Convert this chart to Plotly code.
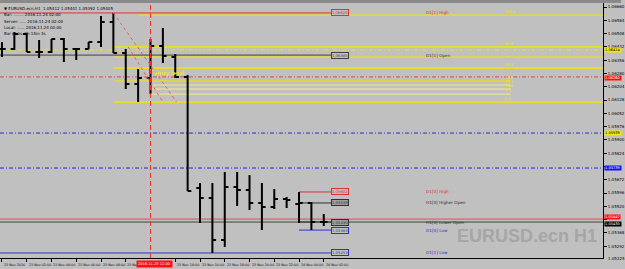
import plotly.graph_objects as go

# ---------------- data ----------------
bar_hours = list(range(27))  # hours since 23 Nov 2016 00:00 (H1 bars)
opens = [1.06420, 1.06420, 1.06506, 1.06403, 1.06403, 1.06477, 1.06420, 1.06420, 1.06460,
         1.06574, 1.06397, 1.06220, 1.06254, 1.06437, 1.06374, 1.06260, 1.05625, 1.05567,
         1.05327, 1.05630, 1.05613, 1.05539, 1.05516, 1.05562, 1.05533, 1.05539, 1.05430]
highs = [1.06460, 1.06517, 1.06511, 1.06471, 1.06477, 1.06483, 1.06425, 1.06460, 1.06609,
         1.06626, 1.06420, 1.06305, 1.06477, 1.06540, 1.06391, 1.06271, 1.05653, 1.05653,
         1.05716, 1.05716, 1.05699, 1.05653, 1.05619, 1.05573, 1.05602, 1.05545, 1.05476]
lows = [1.06374, 1.06414, 1.06403, 1.06368, 1.06397, 1.06345, 1.06357, 1.06418, 1.06431,
        1.06397, 1.06191, 1.06117, 1.06162, 1.06340, 1.06254, 1.05608, 1.05424, 1.05253,
        1.05287, 1.05522, 1.05499, 1.05384, 1.05505, 1.05510, 1.05424, 1.05384, 1.05407]
closes = [1.06420, 1.06506, 1.06403, 1.06403, 1.06477, 1.06420, 1.06420, 1.06460, 1.06574,
          1.06397, 1.06220, 1.06254, 1.06437, 1.06380, 1.06260, 1.05608, 1.05567, 1.05327,
          1.05630, 1.05613, 1.05539, 1.05516, 1.05562, 1.05556, 1.05539, 1.05430, 1.05430]

time_tick_hours = [0, 2, 4, 6, 8, 10, 14, 16, 18, 20, 22, 24, 26]
time_tick_labels = ["23 Nov 2016", "23 Nov 02:00", "23 Nov 04:00", "23 Nov 06:00",
                    "23 Nov 08:00", "23 Nov", "23 Nov 14:00", "23 Nov 16:00",
                    "23 Nov 18:00", "23 Nov 20:00", "23 Nov 22:00", "24 Nov 00:00",
                    "24 Nov 02:00"]
cursor_hour = 12
cursor_label = "2016.11.23 12:00"

price_ticks = [1.06660, 1.06584, 1.06508, 1.06432, 1.06356, 1.06280, 1.06204, 1.06128,
               1.06052, 1.05976, 1.05900, 1.05824, 1.05748, 1.05672, 1.05596, 1.05520,
               1.05444, 1.05368, 1.05292]
# tick labels hidden behind highlighted level boxes are left blank, as in the reference
covered_ticks = [1.05748, 1.05444]
price_tick_labels = ["" if v in covered_ticks else "%.5f" % v for v in price_ticks]
bottom_price_label = "1.05225"

# named daily / hourly levels
d1_prev_high = 1.06626
d1_prev_open = 1.06385
d1_prev_low = 1.05253
d1_cur_high = 1.05602
h1_higher_open = 1.05539
h1_lower_open = 1.05430
d1_cur_low = 1.05384
red_full_level = 1.05447
yellow_dash_level = 1.06414
red_dash_level = 1.06260
blue_dash_levels = [1.05939, 1.05739]

fib_levels = [1.06614, 1.06431, 1.06311, 1.06237, 1.06214, 1.06191, 1.06162, 1.06117]
fib_labels = ["100.0", "61.8", "38.2", "23.6", "19.1", "14.6", "9.0", "0.0"]
extra_yellow_level = 1.06374

header_lines = ["\u25bc EURUSD.ecn,H1  1.05412 1.05441 1.05392 1.05405",
                "Bar: ........ 2016.11.24 02:00",
                "Server: ..... 2016.11.24 02:00",
                "Local: ...... 2016.11.24 00:00",
                "Bar ends: 0h 14m 3s"]

# ---------------- style ----------------
BG = "#C0C0C0"
YEL = "#F2E600"
FONT = "DejaVu Sans"
X_RANGE = [-0.16, 48.56]
Y_RANGE = [1.052243, 1.066829]
X_END = X_RANGE[1]
LBL_BOX_X = 26.6
LBL_TXT_X = 34.1
FIB_START = 9.0
FIB_TXT_X = 40.5
DASHDOT = "4px,2px,1px,2px"

fig = go.Figure()
fig.add_trace(go.Ohlc(x=bar_hours, open=opens, high=highs, low=lows, close=closes,
                      increasing=dict(line=dict(color="black", width=2)),
                      decreasing=dict(line=dict(color="black", width=2)),
                      tickwidth=0.3, hoverinfo="skip", showlegend=False))

shapes = []
ann = []

def hline(y, x0, x1, color, dash="solid", width=1):
    shapes.append(dict(type="line", xref="x", yref="y", x0=x0, x1=x1, y0=y, y1=y,
                       line=dict(color=color, width=width, dash=dash), layer="below"))

# fib lines
for i, lv in enumerate(fib_levels):
    if i == 0:
        hline(lv, 11.0, X_END, YEL, width=1)
    elif i in (3, 4, 5, 6):
        hline(lv, FIB_START if i == 3 else 12.0, 41.1, YEL if i == 3 else "#F4EE80", width=1)
    else:
        hline(lv, FIB_START, X_END, YEL, width=1.5)
    ann.append(dict(x=FIB_TXT_X, y=lv, xref="x", yref="y", text=fib_labels[i],
                    showarrow=False, xanchor="left", yanchor="bottom", yshift=-1,
                    font=dict(size=3.6, color=YEL, family=FONT)))
hline(extra_yellow_level, FIB_START, X_END, YEL, width=1)
hline(yellow_dash_level, X_RANGE[0], X_END, YEL, dash=DASHDOT, width=1)
hline(red_dash_level, X_RANGE[0], X_END, "#E04848", dash=DASHDOT, width=1)
for b in blue_dash_levels:
    hline(b, X_RANGE[0], X_END, "#2828E0", dash=DASHDOT, width=1)
hline(red_full_level, X_RANGE[0], X_END, "#E05050", width=1)
hline(h1_lower_open, X_RANGE[0], X_END, "#404040", width=1)

# diagonal dotted red lines
shapes.append(dict(type="line", xref="x", yref="y", x0=9.0, y0=1.06626, x1=14.1, y1=1.06117,
                   line=dict(color="#E06060", width=1, dash="dot")))
shapes.append(dict(type="line", xref="x", yref="y", x0=10.2, y0=1.06431, x1=13.0, y1=1.06117,
                   line=dict(color="#E06060", width=1, dash="dot")))
# cursor vertical line
shapes.append(dict(type="line", xref="x", yref="paper", x0=cursor_hour, x1=cursor_hour,
                   y0=0, y1=1, line=dict(color="#F03030", width=1, dash="5px,3px")))
# top strip
shapes.append(dict(type="rect", xref="paper", yref="paper", x0=0, x1=1.03, y0=1.0, y1=1.02,
                   fillcolor="#8A8A8A", line=dict(width=0)))

# named levels with boxes and text
named = [(d1_prev_high, X_RANGE[0], "#E03030", "D1[1] High"),
         (d1_prev_open, X_RANGE[0], "#404040", "D1[1] Open"),
         (d1_cur_high, 24.0, "#E03030", "D1[0] High"),
         (h1_higher_open, 24.0, "#303030", "H1[0] Higher Open"),
         (h1_lower_open, 24.0, "#303030", "H1[0] Lower Open"),
         (d1_cur_low, 24.0, "#3030D0", "D1[0] Low"),
         (d1_prev_low, X_RANGE[0], "#3030D0", "D1[1] Low")]
for lv, x0, col, name in named:
    hline(lv, x0, LBL_BOX_X, col, width=1)
    ann.append(dict(x=LBL_BOX_X, y=lv, xref="x", yref="y", text="%.5f" % lv,
                    showarrow=False, xanchor="left", yanchor="middle",
                    font=dict(size=3.8, color=col, family=FONT),
                    bgcolor="#A0A0A0" if col == "#303030" else BG,
                    bordercolor=col, borderwidth=1, borderpad=0))
    ann.append(dict(x=LBL_TXT_X, y=lv, xref="x", yref="y", text=name,
                    showarrow=False, xanchor="left", yanchor="middle",
                    font=dict(size=4.2, color=col, family=FONT)))

# entry level text
ann.append(dict(x=12.1, y=1.06280, xref="x", yref="y", text="<b>entry level</b>",
                showarrow=False, xanchor="left", yanchor="middle",
                font=dict(size=5, color=YEL, family=FONT)))

# header text
for i, t in enumerate(header_lines):
    ann.append(dict(x=0.004, y=0.995 - i * 0.024, xref="paper", yref="paper", text=t,
                    showarrow=False, xanchor="left", yanchor="top",
                    font=dict(size=4, color="black", family=FONT)))

# time labels
for h, t in zip(time_tick_hours, time_tick_labels):
    ann.append(dict(x=h, y=0, xref="x", yref="paper", text=t, showarrow=False,
                    xanchor="left", yanchor="top", xshift=-1 if h == 10 else 0, yshift=-3,
                    font=dict(size=3.3, color="black", family=FONT)))
ann.append(dict(x=cursor_hour, y=0, xref="x", yref="paper", text=cursor_label,
                showarrow=False, xanchor="center", yanchor="top", yshift=-2, xshift=4,
                font=dict(size=3.6, color="white", family=FONT), bgcolor="#FF1010", borderpad=1))

# axis highlighted labels
axis_boxes = [(yellow_dash_level, YEL, "black", 0), (red_dash_level, "#FF1010", "white", -1),
              (blue_dash_levels[0], YEL, "black", 0), (blue_dash_levels[1], "#1010FF", "white", 0),
              (red_full_level, "#FF1010", "white", 2), (h1_lower_open, "black", "white", -2)]
for lv, bg, fc, ys in axis_boxes:
    ann.append(dict(x=1.0, y=lv, xref="paper", yref="y", text="%.5f" % lv, showarrow=False,
                    xanchor="left", yanchor="middle", xshift=1, yshift=ys,
                    font=dict(size=3.6, color=fc, family=FONT), bgcolor=bg, borderpad=0))
ann.append(dict(x=1.0, y=0, xref="paper", yref="paper", text=bottom_price_label,
                showarrow=False, xanchor="left", yanchor="middle", xshift=3,
                font=dict(size=4, color="black", family=FONT)))

# watermark
ann.append(dict(x=0.994, y=0.086, xref="paper", yref="paper", text="<b>EURUSD.ecn H1</b>",
                showarrow=False, xanchor="right", yanchor="middle",
                font=dict(size=18, color="#A6A6A6", family="Liberation Sans")))

fig.update_layout(
    width=625, height=269,
    margin=dict(l=0, r=16, t=3, b=11),
    paper_bgcolor=BG, plot_bgcolor=BG,
    shapes=shapes, annotations=ann, showlegend=False,
    xaxis=dict(range=X_RANGE, showgrid=False, zeroline=False, rangeslider=dict(visible=False),
               tickvals=time_tick_hours, ticktext=[""] * len(time_tick_hours),
               ticks="outside", ticklen=3, tickcolor="black", showline=True,
               linecolor="black", linewidth=1, fixedrange=True),
    yaxis=dict(range=Y_RANGE, side="right", showgrid=False, zeroline=False,
               tickvals=price_ticks, ticktext=price_tick_labels, ticks="outside",
               ticklen=3, tickcolor="black", tickfont=dict(size=4, color="black", family=FONT),
               showline=True, linecolor="black", linewidth=1, fixedrange=True),
)

fig.write_html("out.html")
